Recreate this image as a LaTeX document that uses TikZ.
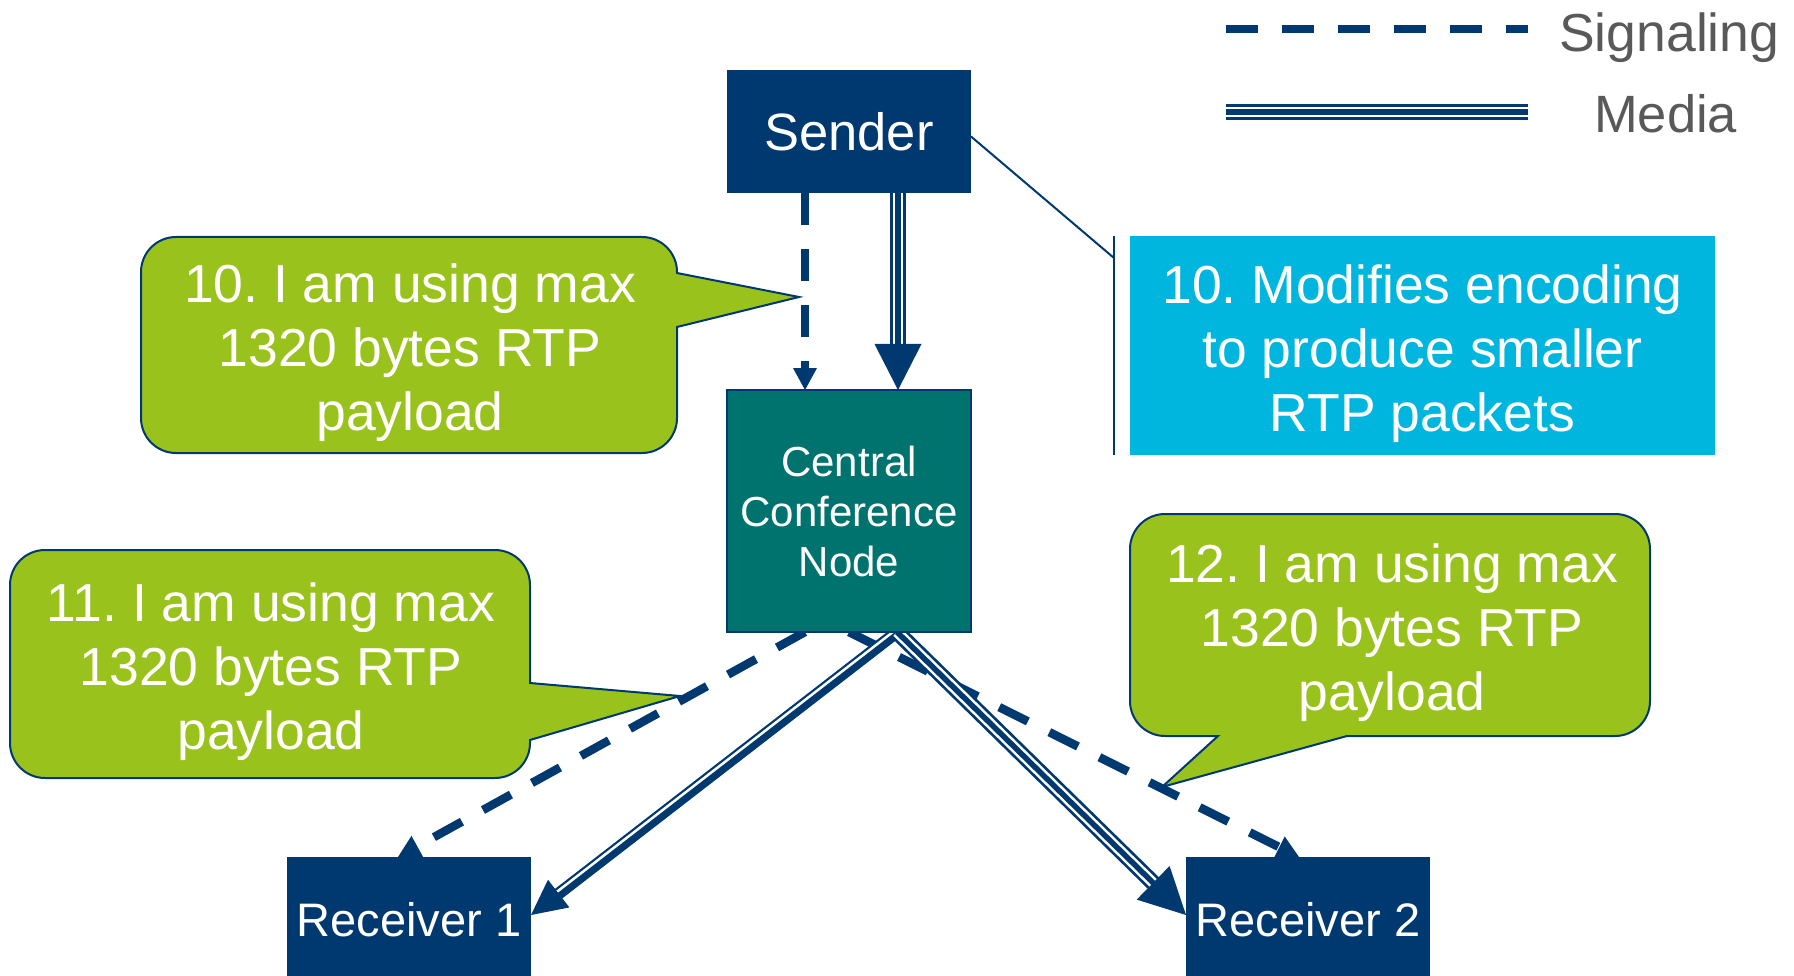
\documentclass[tikz,border=0pt]{standalone}
\usepackage{fontspec}
\setmainfont{Liberation Sans}
\usetikzlibrary{calc}
\frenchspacing

\definecolor{navy}{RGB}{0,56,112}
\definecolor{teal}{RGB}{0,115,110}
\definecolor{leaf}{RGB}{154,194,28}
\definecolor{sky}{RGB}{0,182,222}
\definecolor{legendgray}{RGB}{89,89,89}

\pgfdeclarelayer{bg}
\pgfdeclarelayer{mid}
\pgfsetlayers{bg,mid,main}

\tikzset{
  box/.style={inner sep=0pt, outer sep=0pt, text=white, align=center},
  signal/.style={draw=navy, line width=8.5pt, dash pattern=on 32pt off 24pt},
  callout/.style={fill=leaf, draw=navy, line width=2pt, line join=miter},
  calltext/.style={inner sep=0pt, text=white, align=center,
                   font=\fontsize{53.5}{64}\selectfont},
  leader/.style={draw=navy, line width=2pt},
}

% dashed signalling connector with a small solid head
\newcommand{\signalarrow}[2]{%
  \coordinate (shb) at ($(#2)!22pt!(#1)$);
  \draw[signal] (#1) -- (shb);
  \fill[navy] (#2) -- ($(shb)!12pt!90:(#2)$) -- ($(shb)!12pt!-90:(#2)$) -- cycle;
}
% triple-line media connector: start, tip, head length, head width
\newcommand{\mediaarrow}[4]{%
  \coordinate (mhb) at ($(#2)!#3!(#1)$);
  \coordinate (mhe) at ($(#2)!#3-2pt!(#1)$);
  \draw[navy, line width=16pt] (#1) -- (mhe);
  \draw[white, line width=10.5pt] (#1) -- (mhe);
  \draw[navy, line width=5.5pt] (#1) -- (mhe);
  \fill[navy] (#2) -- ($(mhb)!0.5*#4!90:(#2)$) -- ($(mhb)!0.5*#4!-90:(#2)$) -- cycle;
}

\begin{document}
\begin{tikzpicture}[x=1pt,y=-1pt]
\useasboundingbox (0,0) rectangle (1794,976);

% ---- boxes ----
\node[box, fill=navy, minimum width=244pt, minimum height=123pt,
      font=\fontsize{52.5}{60}\selectfont] (sender) at (849,131.5) {Sender};
\node[box, fill=teal, draw=navy, line width=2pt, minimum width=244pt,
      minimum height=242pt, font=\fontsize{42}{50}\selectfont]
      (central) at (849,511) {Central\\Conference\\Node};
\node[box, fill=navy, minimum width=244pt, minimum height=126pt,
      font=\fontsize{47}{54}\selectfont] (r1) at (409,920) {Receiver 1};
\node[box, fill=navy, minimum width=244pt, minimum height=126pt,
      font=\fontsize{47}{54}\selectfont] (r2) at (1308,920) {Receiver 2};
\node[box, fill=sky, minimum width=585pt, minimum height=219pt]
      (enc) at (1422.5,345.5) {};
\node[calltext] (enctext) at ($(enc.center)+(0,8)$)
      {10. Modifies encoding\\to produce smaller\\RTP packets};

% ---- connector end points ----
\coordinate (sd) at ($(sender.south)+(-44,0)$);
\coordinate (cd) at ($(central.north)+(-44,0)$);
\coordinate (sm) at ($(sender.south)+(49,0)$);
\coordinate (cm) at ($(central.north)+(49,0)$);
\coordinate (cmo) at ($(central.south)+(48,0)$);
\coordinate (cdl) at ($(central.south)+(-44,0)$);
\coordinate (cdr) at (central.south);
\coordinate (r1m) at ($(r1.east)+(0,-5)$);
\coordinate (r2m) at ($(r2.west)+(0,-5)$);
\coordinate (r1s) at ($(r1.north)+(-11,0)$);
\coordinate (r2s) at ($(r2.north)+(-9,0)$);

% ---- connectors ----
\begin{pgfonlayer}{mid}
  \signalarrow{sd}{cd}
  \mediaarrow{sm}{cm}{46pt}{47pt}
  \signalarrow{cdl}{r1s}
  \signalarrow{cdr}{r2s}
  % media to receiver 1: thin/thick double line
  \coordinate (m1b) at ($(r1m)!35pt!(cmo)$);
  \coordinate (m1e) at ($(r1m)!33pt!(cmo)$);
  \draw[navy, line width=12pt] (cmo) -- (m1e);
  \draw[white, line width=2.5pt, transform canvas={shift={(-1.5,-2)}}] (cmo) -- (m1e);
  \fill[navy] (r1m) -- ($(m1b)!17.5pt!90:(r1m)$) -- ($(m1b)!17.5pt!-90:(r1m)$) -- cycle;
  \mediaarrow{cmo}{r2m}{46pt}{47pt}
  % leader with accent bar for the encoder note
  \coordinate (barTop) at ($(enc.north west)+(-16,0)$);
  \coordinate (barBot) at ($(enc.south west)+(-16,0)$);
  \coordinate (barHook) at ($(enc.north west)+(-16,22)$);
  \draw[leader] ($(sender.east)+(0,5)$) -- (barHook);
  \draw[leader] (barTop) -- (barBot);
\end{pgfonlayer}

% ---- callouts ----
\begin{pgfonlayer}{bg}
  \fill[white] (0,0) rectangle (1794,976);
  \draw[callout] (176,237) -- (642,237) arc[start angle=-90,end angle=0,radius=35]
    -- (677,273) -- (799,297) -- (677,327)
    -- (677,418) arc[start angle=0,end angle=90,radius=35]
    -- (176,453) arc[start angle=90,end angle=180,radius=35]
    -- (141,272) arc[start angle=180,end angle=270,radius=35] -- cycle;
  \draw[callout] (45,550) -- (495,550) arc[start angle=-90,end angle=0,radius=35]
    -- (530,683) -- (680,696) -- (530,740)
    -- (530,743) arc[start angle=0,end angle=90,radius=35]
    -- (45,778) arc[start angle=90,end angle=180,radius=35]
    -- (10,585) arc[start angle=180,end angle=270,radius=35] -- cycle;
  \draw[callout] (1165,514) -- (1615,514) arc[start angle=-90,end angle=0,radius=35]
    -- (1650,701) arc[start angle=0,end angle=90,radius=35]
    -- (1347,736) -- (1162,787) -- (1218,736)
    -- (1165,736) arc[start angle=90,end angle=180,radius=35]
    -- (1130,549) arc[start angle=180,end angle=270,radius=35] -- cycle;
\end{pgfonlayer}

\node[calltext] (c10) at (410,353) {10. I am using max\\1320 bytes RTP\\payload};
\node[calltext] (c11) at (271,672) {11. I am using max\\1320 bytes RTP\\payload};
\node[calltext] (c12) at (1392,633) {12. I am using max\\1320 bytes RTP\\payload};

% ---- legend ----
\coordinate (lgA) at (1226,29);
\coordinate (lgB) at (1528,29);
\coordinate (lgC) at (1226,112);
\coordinate (lgD) at (1528,112);
\draw[signal] (lgA) -- (lgB);
\draw[navy, line width=16pt] (lgC) -- (lgD);
\draw[white, line width=10.5pt] (lgC) -- (lgD);
\draw[navy, line width=5.5pt] (lgC) -- (lgD);
\node[anchor=base west, inner sep=0pt, text=legendgray,
      font=\fontsize{53.5}{60}\selectfont] (lsig) at (1559,52) {Signaling};
\node[anchor=base west, inner sep=0pt, text=legendgray,
      font=\fontsize{52.5}{60}\selectfont] (lmed) at (1594,133) {Media};
\end{tikzpicture}
\end{document}
